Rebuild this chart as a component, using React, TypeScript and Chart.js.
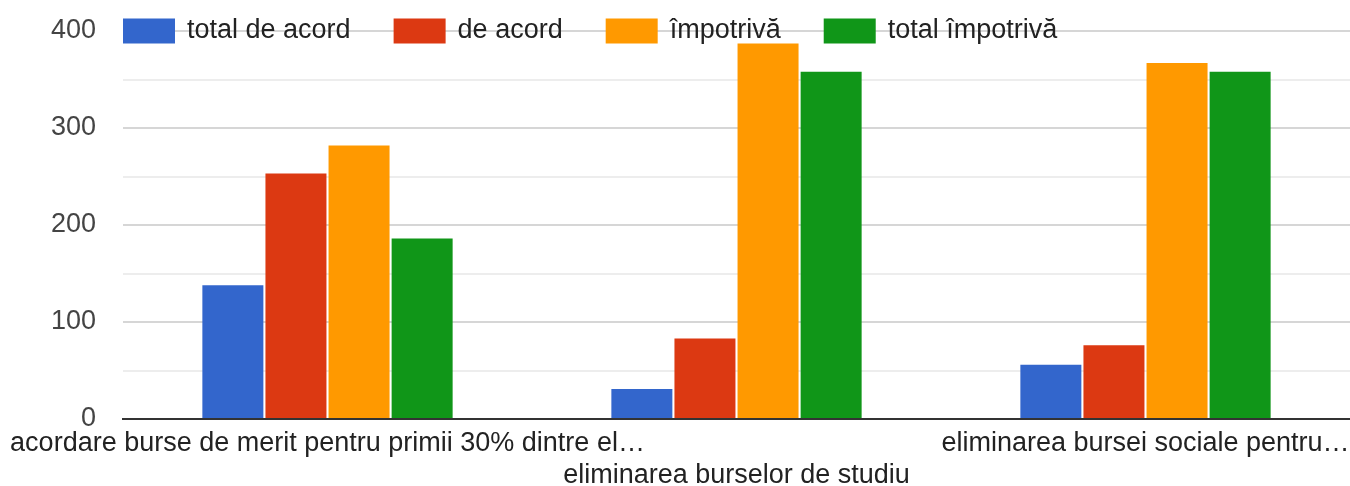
import React, { useEffect, useRef } from "react";
import { Chart, registerables } from "chart.js";

Chart.register(...registerables);

const categories = [
  "acordare burse de merit pentru primii 30% dintre el…",
  "eliminarea burselor de studiu",
  "eliminarea bursei sociale pentru…",
];
const seriesNames = ["total de acord", "de acord", "împotrivă", "total împotrivă"];
const totalDeAcord = [138, 31, 56];
const deAcord = [253, 83, 76];
const impotriva = [282, 387, 367];
const totalImpotriva = [186, 358, 358];
const seriesColors = ["#3366cc", "#dc3912", "#ff9900", "#109618"];
const yTicks = [0, 100, 200, 300, 400];

const FONT = "'Liberation Sans', Arial, sans-serif";

const legendPlugin = {
  id: "topLegend",
  afterDraw(chart: any) {
    const ctx = chart.ctx;
    const yScale = chart.scales.y;
    const cy = yScale.getPixelForValue(400);
    let x = chart.chartArea.left;
    ctx.save();
    ctx.font = `27px ${FONT}`;
    ctx.textBaseline = "middle";
    ctx.textAlign = "left";
    chart.data.datasets.forEach((ds: any) => {
      ctx.fillStyle = ds.backgroundColor;
      ctx.fillRect(x, cy - 12.5, 52, 25);
      ctx.fillStyle = "#222222";
      ctx.fillText(ds.label, x + 64, cy);
      x += 64 + ctx.measureText(ds.label).width + 43;
    });
    ctx.restore();
  },
};

export default function App() {
  const ref = useRef<HTMLCanvasElement>(null);
  useEffect(() => {
    const data = [totalDeAcord, deAcord, impotriva, totalImpotriva];
    const chart = new Chart(ref.current as HTMLCanvasElement, {
      type: "bar",
      data: {
        labels: categories,
        datasets: seriesNames.map((name, i) => ({
          label: name,
          data: data[i],
          backgroundColor: seriesColors[i],
          borderWidth: 0,
          categoryPercentage: 0.617,
          barPercentage: 0.967,
        })),
      },
      options: {
        responsive: false,
        animation: false,
        layout: { padding: { left: 51, top: 31, right: 0, bottom: 0 } },
        plugins: {
          legend: { display: false },
          tooltip: { enabled: false },
        },
        scales: {
          x: {
            grid: { display: false, drawTicks: false },
            border: { display: true, color: "#333333", width: 2 },
            ticks: {
              autoSkip: false,
              maxRotation: 0,
              minRotation: 0,
              padding: 8,
              color: "#222222",
              font: { family: FONT, size: 27, lineHeight: 1.2 },
              callback: (_v: any, idx: number) =>
                idx % 2 === 1 ? ["", categories[idx]] : categories[idx],
            },
            afterFit: (s: any) => {
              s.height = 67;
              s.paddingLeft = 0;
              s.paddingRight = 0;
            },
          },
          y: {
            min: 0,
            max: 400,
            border: { display: false },
            grid: {
              drawTicks: false,
              lineWidth: 2,
              color: (c: any) =>
                c.tick.value === 0
                  ? "rgba(0,0,0,0)"
                  : c.tick.value % 100 === 0
                  ? "#d6d6d6"
                  : "#ededed",
            },
            ticks: {
              stepSize: 50,
              padding: 27,
              color: "#444444",
              font: { family: FONT, size: 27 },
              callback: (v: any) => (yTicks.includes(Number(v)) ? String(v) : ""),
            },
            afterFit: (s: any) => {
              s.width = 72;
              s.paddingTop = 0;
              s.paddingBottom = 0;
            },
          },
        },
      },
      plugins: [legendPlugin],
    });
    return () => chart.destroy();
  }, []);
  return (
    <div style={{ position: "absolute", left: 0, top: 0, width: 1350, height: 486, overflow: "hidden", background: "#fff" }}>
      <canvas ref={ref} width={1350} height={486} style={{ display: "block" }} />
    </div>
  );
}
